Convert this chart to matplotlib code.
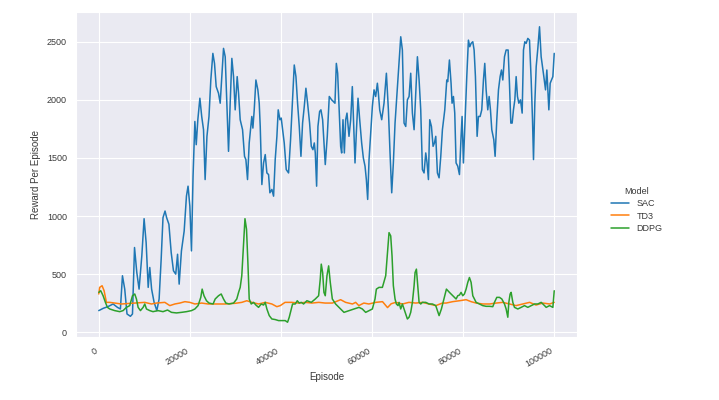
import numpy as np
import matplotlib
matplotlib.use("Agg")
import matplotlib.pyplot as plt
import seaborn as sns

# Valores (episodios en miles)
sac_ep = [0.0, 1.0, 2.0, 3.15, 4.1, 4.75, 5.2, 5.7, 6.2, 6.95, 7.4, 7.85, 8.35, 8.85, 9.45, 9.95,
          10.4, 10.85, 11.2, 11.6, 12.15, 12.75, 13.25, 13.7, 14.1, 14.55, 14.9, 15.4, 15.9, 16.4,
          16.9, 17.3, 17.65, 18.15, 18.75, 19.25, 19.6, 20.0, 20.35, 20.7, 21.1, 21.4, 21.75, 22.2,
          22.6, 23.0, 23.35, 23.75, 24.2, 24.6, 25.05,
          25.41, 25.78, 26.29, 26.66, 27.02, 27.39, 27.76, 28.12, 28.49, 28.85, 29.22, 29.59, 29.95,
          30.39, 30.69, 31.05, 31.57, 32.0, 32.3, 32.66, 33.03, 33.4, 33.6, 33.84, 34.13, 34.5,
          34.93, 35.23, 35.45, 35.81, 36.18, 36.55, 36.91, 37.28, 37.57, 38.01, 38.38, 38.74, 39.11,
          39.4, 39.77, 40.06, 40.36, 40.72, 41.16, 41.67, 42.11, 42.55, 42.92, 43.29, 43.65, 44.02,
          44.39, 44.75, 45.12, 45.48, 45.85, 46.29, 46.66, 47.02, 47.32, 47.54, 47.83, 48.12, 48.49,
          48.78, 49.15, 49.44, 49.73, 50.17, 50.61,
          51.13, 51.5, 51.86, 52.16, 52.45, 52.74, 53.11, 53.33, 53.62, 53.92, 54.21, 54.5, 54.94,
          55.31, 55.67, 56.04, 56.26, 56.55, 56.92, 57.29, 57.72, 58.09, 58.46, 58.75, 59.04, 59.34,
          59.7, 60.07, 60.44, 60.8, 61.17, 61.39, 61.68, 62.12, 62.63, 63.15, 63.59, 63.95, 64.32,
          64.68, 65.05, 65.49, 65.93, 66.3, 66.66, 67.03, 67.4, 67.76, 68.13, 68.49, 68.86, 69.23,
          69.59, 69.96, 70.33, 70.69, 71.06, 71.42, 71.79, 72.08, 72.38, 72.67, 73.04, 73.4, 73.7,
          73.99, 74.35, 74.72, 75.09, 75.45, 75.97, 76.41,
          76.62, 76.99, 77.35, 77.57, 77.87, 78.16, 78.45, 78.82, 79.19, 79.55, 79.77, 80.06, 80.43,
          80.8, 81.16, 81.46, 81.75, 82.12, 82.41, 82.7, 83.07, 83.36, 83.73, 84.09, 84.46, 84.75,
          85.05, 85.41, 85.71, 86.0, 86.29, 86.73, 87.02, 87.39, 87.76, 88.12, 88.42, 88.71, 89.08,
          89.44, 89.88, 90.17, 90.47, 90.76, 91.05, 91.35, 91.64, 91.93, 92.23, 92.59, 92.96, 93.25,
          93.54, 93.84, 94.2, 94.57, 94.94, 95.23, 95.45, 95.74, 96.04, 96.4, 96.77, 97.13, 97.43,
          97.72, 98.09, 98.38, 98.6, 98.82, 99.11, 99.41, 99.7, 100.0]
sac_reward = [186, 206, 220, 243, 214, 200, 486, 371, 157, 137, 157, 729, 514, 371, 657, 977,
              771, 386, 557, 371, 257, 186, 286, 629, 986, 1043, 986, 929, 686, 529,
              500, 671, 414, 700, 871, 1171, 1257, 1086, 700, 1343, 1814, 1614, 1829, 2014,
              1857, 1743, 1314, 1686, 1857, 2171, 2400,
              2314, 2114, 2057, 1971, 2200, 2443, 2371, 1971, 1557, 1971, 2357, 2200, 1914,
              2200, 2057, 1829, 1743, 1514, 1486, 1314, 1629, 1771, 1857, 1757, 1914, 2171,
              2086, 1971, 1771, 1271, 1457, 1529, 1371, 1357, 1200, 1229, 1171, 1486, 1686,
              1914, 1829, 1843, 1743, 1629, 1400, 1371, 1657, 2000, 2300, 2200, 1971, 1771,
              1514, 1800, 1943, 2100, 1971, 1800, 1600, 1571, 1629, 1543, 1257, 1771, 1900,
              1914, 1829, 1629, 1443, 1686, 2029,
              2000, 1986, 1971, 2314, 2229, 1943, 1600, 1543, 1829, 1543, 1829, 1886, 1686,
              1829, 2114, 1686, 1457, 1714, 2014, 1829, 1629, 1500, 1429, 1314, 1143, 1486,
              1714, 1943, 2086, 2029, 2143, 2057, 1914, 1829, 1971, 2229, 1914, 1543, 1200,
              1457, 1800, 2057, 2314, 2543, 2429, 1800, 1771, 2000, 2029, 2229, 1886, 1743,
              2057, 2371, 2171, 1914, 1400, 1371, 1543, 1457, 1314, 1829, 1771, 1600, 1629,
              1686, 1371, 1329, 1514, 1743, 1914, 2171,
              2157, 2343, 2143, 1971, 2029, 1886, 1457, 1429, 1357, 1686, 1857, 1457, 1829,
              2200, 2514, 2457, 2486, 2500, 2429, 2200, 1686, 1857, 1857, 1914, 2171, 2314,
              2086, 1914, 2029, 1914, 1743, 1657, 1514, 1829, 2086, 2200, 2257, 2171, 2371,
              2429, 2429, 2143, 1800, 1800, 1914, 2000, 2200, 2029, 1971, 2000, 1886, 2429,
              2500, 2486, 2529, 2514, 2171, 1829, 1486, 1971, 2286, 2443, 2629, 2371, 2286,
              2200, 2086, 2257, 2086, 1914, 2143, 2171, 2200, 2400]

td3_ep = [0.0, 0.2, 0.73, 1.17, 1.68, 2.41, 4.98, 7.9, 10.1, 11.57, 12.67, 14.5, 15.6, 16.7,
          17.8, 18.9, 20.0, 21.1, 22.6, 24.0, 25.6, 27.8, 30.0, 31.4, 32.5, 33.6, 35.1, 36.55,
          38.0, 39.1, 39.85, 40.9, 42.4, 43.9, 45.3, 46.8, 48.3, 49.7, 51.3, 53.1, 54.2, 55.7,
          56.4, 57.1, 58.2, 59.3, 60.8, 62.3, 63.4, 64.2, 65.2, 66.7, 68.1, 69.6, 71.1, 72.5,
          74.0, 75.45, 76.25, 77.7, 79.2, 80.65, 81.75, 82.85, 84.3, 85.8, 87.25, 88.7, 90.2,
          91.6, 93.1, 94.6, 96.0, 97.5, 99.0, 100.0]
td3_reward = [329, 386, 400, 357, 257, 257, 243, 251, 257, 243, 251, 257, 229, 243,
              251, 263, 257, 243, 251, 243, 243, 243, 249, 257, 271, 257, 243, 257,
              243, 220, 229, 257, 257, 251, 257, 251, 257, 251, 251, 280, 257, 243,
              257, 229, 251, 243, 257, 263, 212, 245, 257, 243, 257, 251, 257, 243,
              229, 251, 251, 263, 271, 280, 263, 251, 243, 243, 251, 257, 243,
              229, 243, 257, 234, 251, 243, 257]

ddpg_ep = [0.0, 0.43, 0.95, 1.46, 1.9, 2.41, 3.5, 4.6, 5.34, 6.07, 6.8, 7.4, 7.9, 8.27, 8.64,
           9.15, 9.74, 10.1, 10.47, 11.2, 11.9, 13.0, 14.1, 15.1, 15.96, 17.06, 18.16, 19.26,
           20.36, 21.1, 21.8, 22.4, 22.7, 23.1, 23.65, 24.2, 25.1,
           25.56, 26.29, 26.88, 27.39, 27.9, 28.6, 29.6, 30.3, 30.7, 31.05, 31.4, 31.8, 32.1,
           32.44, 32.74, 33.03, 33.47, 33.98, 34.5, 35.08, 35.67, 36.18, 36.55, 36.91, 37.43,
           38.0, 38.74, 39.48, 40.21, 40.94, 41.45, 41.82, 42.26, 42.55, 43.14, 43.58, 44.02,
           44.46, 44.97, 45.7, 46.66, 47.54, 48.27, 48.63, 48.85, 49.15, 49.44, 49.73, 50.1,
           50.47, 50.83, 51.28, 52.0, 53.1, 53.84, 54.94, 56.04, 57.14, 57.87, 58.6, 59.34,
           60.07, 60.65, 60.95, 61.53, 62.27, 63.0, 63.44, 63.73, 64.1, 64.39, 64.68, 65.05,
           65.34, 65.71, 65.93, 66.3, 66.66, 67.03, 67.4, 67.76, 68.13, 68.49, 68.86, 69.23,
           69.45, 69.74, 70.03, 70.33, 70.69, 71.06, 71.79, 72.52, 73.26, 73.99, 74.72, 75.23,
           75.6, 75.97, 76.33, 76.99, 77.72, 78.45, 78.82, 79.19, 79.55, 79.92, 80.28, 80.65,
           81.02, 81.38, 81.75, 82.12, 82.48, 82.85, 83.58, 84.31, 85.05, 85.78, 86.51, 86.88,
           87.39, 87.98, 88.49, 89.08, 89.44, 89.81, 90.03, 90.32, 90.54, 90.91, 91.27, 92.0,
           92.74, 93.47, 94.2, 94.94, 95.67, 96.4, 97.13, 97.5, 97.87, 98.23, 98.97, 99.7, 100.0]
ddpg_reward = [343, 357, 314, 257, 214, 200, 186, 177, 186, 214, 229, 314, 329, 286, 214,
               186, 214, 243, 200, 186, 177, 186, 177, 191, 171, 166, 171, 177,
               186, 200, 229, 300, 371, 314, 271, 251, 243,
               286, 314, 329, 286, 251, 243, 251, 286, 343, 386, 486, 771, 977,
               886, 600, 286, 243, 257, 234, 214, 243, 234, 257, 200, 143,
               114, 109, 100, 100, 100, 86, 129, 200, 243, 243, 271, 251,
               257, 243, 271, 257, 286, 314, 457, 586, 514, 343, 314, 486,
               571, 429, 286, 243, 200, 171, 186, 200, 214, 200, 171, 186,
               200, 286, 371, 386, 386, 486, 714, 857, 829, 657, 400, 286,
               243, 229, 257, 200, 243, 200, 157, 114, 129, 171, 257, 400,
               514, 543, 400, 257, 243, 257, 257, 243, 243, 229, 143, 200,
               257, 314, 371, 343, 314, 286, 314, 320, 343, 314, 329, 371,
               429, 471, 429, 314, 286, 257, 243, 229, 223, 223, 220, 257,
               300, 300, 286, 243, 200, 129, 257, 329, 343, 257, 214, 200,
               214, 229, 214, 229, 243, 243, 257, 243, 229, 214, 229, 214, 357]

modelos = ["SAC", "TD3", "DDPG"]
colores = ["#1f77b4", "#ff7f0e", "#2ca02c"]

sns.set_style("darkgrid")
plt.rcParams['font.family'] = ['Liberation Sans', 'DejaVu Sans']

fig = plt.figure(figsize=(7.19, 4.0), dpi=100)
ax = fig.add_axes([0.1057, 0.1575, 0.6968, 0.8125])

series = [(sac_ep, sac_reward), (td3_ep, td3_reward), (ddpg_ep, ddpg_reward)]
for nombre, color, (ep, rw) in zip(modelos, colores, series):
    ax.plot(np.array(ep) * 1000, rw, color=color, lw=1.1, label=nombre)

ax.set_xticks([0, 20000, 40000, 60000, 80000, 100000])
ax.set_yticks([0, 500, 1000, 1500, 2000, 2500])
ax.tick_params(axis='both', labelsize=6.5, colors='#3a3a3a', pad=3)
plt.setp(ax.get_xticklabels(), rotation=30, ha='right')
ax.set_xlabel("Episode", fontsize=7, color='#3a3a3a', labelpad=2)
ax.set_ylabel("Reward Per Episode", fontsize=7, color='#3a3a3a', labelpad=4)

handles, labels = ax.get_legend_handles_labels()
leg = fig.legend(handles, labels, title="Model", loc='center left',
                 bbox_to_anchor=(0.845, 0.475), frameon=False,
                 fontsize=6.5, title_fontsize=6.5, handlelength=2.0,
                 labelspacing=0.35, borderaxespad=0)
for t in leg.get_texts():
    t.set_color('#3a3a3a')
leg.get_title().set_color('#3a3a3a')

fig.savefig("out.png", dpi=100)
